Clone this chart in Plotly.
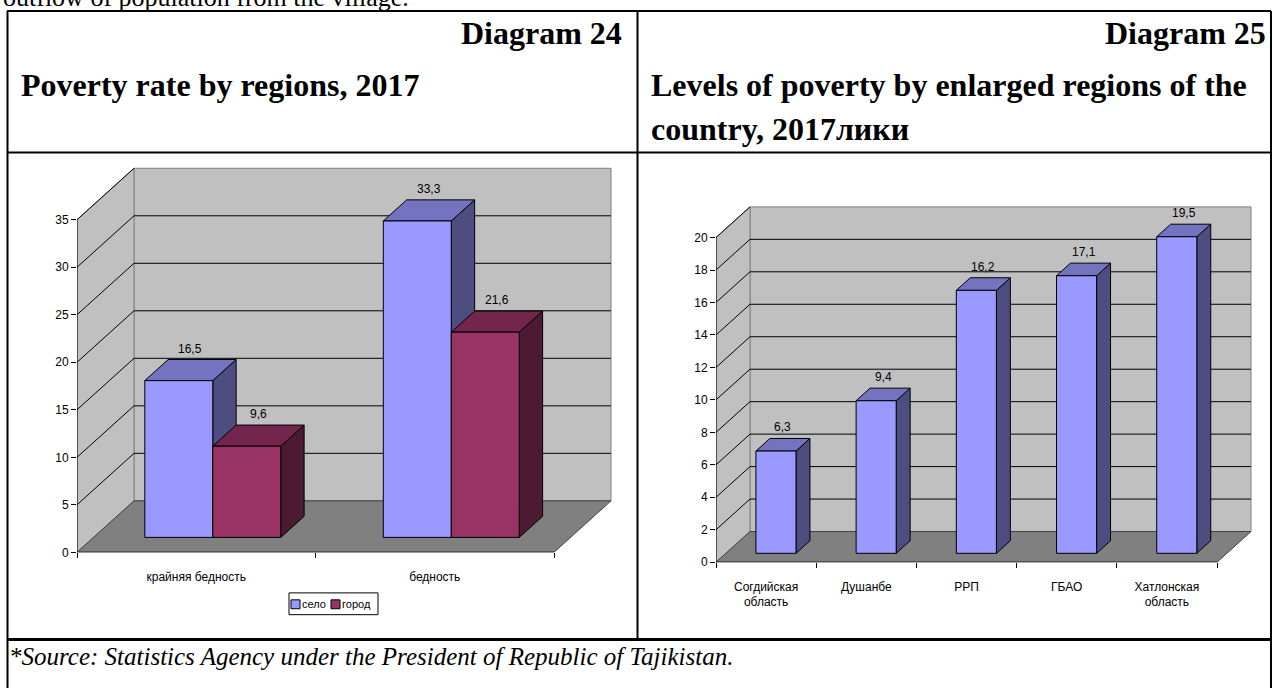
import plotly.graph_objects as go

W, H = 1273, 688

# ---------------- data ----------------
# Diagram 24: poverty rate, rural vs urban
groups24 = ["крайняя бедность", "бедность"]
series24 = ["село", "город"]
selo24 = [16.5, 33.3]
gorod24 = [9.6, 21.6]
ticks24 = [0, 5, 10, 15, 20, 25, 30, 35]

# Diagram 25: poverty by enlarged regions
regions25 = ["Согдийская<br>область", "Душанбе", "РРП", "ГБАО", "Хатлонская<br>область"]
poverty25 = [6.3, 9.4, 16.2, 17.1, 19.5]
ticks25 = [0, 2, 4, 6, 8, 10, 12, 14, 16, 18, 20]

# ---------------- styling ----------------
SANS = "Liberation Sans, Arial, sans-serif"
SERIF = "Liberation Serif, Times New Roman, serif"
WALL = "#C0C0C0"
WALL_EDGE = "#808080"
FLOOR = "#808080"
SELO = ("#9999FF", "#7373BF", "#4D4D80")    # front, top, side
GOROD = ("#993366", "#73264D", "#4D1A33")

# oblique-projection geometry for each panel (pixels on the page)
PANELS = {
    "24": dict(ox=77, oy=558, ux=238.5, uy=9.6, ddx=57, ddy=52,
               right=620, top=160, ncat=2, vmax=35),
    "25": dict(ox=716, oy=568, ux=100.2, uy=16.4, ddx=34, ddy=31,
               right=1258, top=200, ncat=5, vmax=20),
}
AXES = {"24": ("x", "y"), "25": ("x2", "y2")}
Z0, Z1 = 0.29, 0.70   # bar depth span within the floor


def proj(p, x, v, z):
    g = PANELS[p]
    return x + z * g["ddx"] / g["ux"], v + z * g["ddy"] / g["uy"]


def poly(p, pts, fill, edge, lw=1.0):
    xa, ya = AXES[p]
    xy = [proj(p, *q) for q in pts]
    xy.append(xy[0])
    return go.Scatter(x=[a for a, _ in xy], y=[b for _, b in xy], mode="lines",
                      fill="toself", fillcolor=fill,
                      line=dict(color=edge, width=lw),
                      xaxis=xa, yaxis=ya, hoverinfo="skip", showlegend=False)


def seg(p, a, b, color, lw=1.0):
    xa, ya = AXES[p]
    pa, pb = proj(p, *a), proj(p, *b)
    return go.Scatter(x=[pa[0], pb[0]], y=[pa[1], pb[1]], mode="lines",
                      line=dict(color=color, width=lw),
                      xaxis=xa, yaxis=ya, hoverinfo="skip", showlegend=False)


def frame(p, ticks):
    g = PANELS[p]
    n, vm = g["ncat"], g["vmax"]
    tr = [
        poly(p, [(0, 0, 1), (n, 0, 1), (n, vm, 1), (0, vm, 1)], WALL, WALL_EDGE),
        poly(p, [(0, 0, 0), (0, 0, 1), (0, vm, 1), (0, vm, 0)], WALL, WALL_EDGE),
    ]
    for t in ticks:
        if t <= 0:
            continue
        if t < vm:
            tr.append(seg(p, (0, t, 1), (n, t, 1), "#000000"))
        tr.append(seg(p, (0, t, 0), (0, t, 1), "#000000"))
    tr.append(poly(p, [(0, 0, 0), (n, 0, 0), (n, 0, 1), (0, 0, 1)], FLOOR, "#404040"))
    tr.append(seg(p, (0, 0, 0), (0, vm, 0), "#000000"))
    tr.append(seg(p, (0, 0, 0), (n, 0, 0), "#000000", 1.2))
    return tr


def bar(p, x0, x1, v, colors):
    front, top, side = colors
    return [
        poly(p, [(x1, 0, Z0), (x1, 0, Z1), (x1, v, Z1), (x1, v, Z0)], side, "#000000"),
        poly(p, [(x0, v, Z0), (x1, v, Z0), (x1, v, Z1), (x0, v, Z1)], top, "#000000"),
        poly(p, [(x0, 0, Z0), (x1, 0, Z0), (x1, v, Z0), (x0, v, Z0)], front, "#000000"),
    ]


def label(p, x0, x1, v):
    xa, ya = AXES[p]
    cx, _ = proj(p, (x0 + x1) / 2, v, (Z0 + Z1) / 2)
    _, ty = proj(p, 0, v, Z1)
    return dict(x=cx, y=ty, xref=xa, yref=ya, text=f"{v:.1f}".replace(".", ","),
                showarrow=False, yanchor="bottom", yshift=2,
                font=dict(family=SANS, size=12, color="#000000"))


traces, notes = [], []

# ---- Diagram 24 ----
traces += frame("24", ticks24)
BW24 = 0.285
for i in range(len(groups24)):
    c = i + 0.5
    traces += bar("24", c - BW24, c, selo24[i], SELO)
    traces += bar("24", c, c + BW24, gorod24[i], GOROD)
    notes.append(label("24", c - BW24, c, selo24[i]))
    notes.append(label("24", c, c + BW24, gorod24[i]))

# ---- Diagram 25 ----
traces += frame("25", ticks25)
BW25 = 0.40
for i, v in enumerate(poverty25):
    c = i + 0.5
    traces += bar("25", c - BW25 / 2, c + BW25 / 2, v, SELO)
    notes.append(label("25", c - BW25 / 2, c + BW25 / 2, v))

fig = go.Figure(traces)


def axes_for(p, cats, ticks):
    g = PANELS[p]
    xdom = [g["ox"] / W, g["right"] / W]
    ydom = [1 - g["oy"] / H, 1 - g["top"] / H]
    xr = [0, (g["right"] - g["ox"]) / g["ux"]]
    yr = [0, (g["oy"] - g["top"]) / g["uy"]]
    xa = dict(domain=xdom, range=xr, showgrid=False, zeroline=False, showline=False,
              tickmode="array", tickvals=[i + 0.5 for i in range(len(cats))],
              ticktext=cats, ticks="outside", ticklen=6, tickcolor="rgba(0,0,0,0)",
              ticklabelstandoff=7,
              tickfont=dict(family=SANS, size=12, color="#000000"),
              minor=dict(tickmode="array", tickvals=list(range(len(cats) + 1)),
                         ticks="outside", ticklen=5, tickcolor="#000000", showgrid=False),
              fixedrange=True)
    ya = dict(domain=ydom, range=yr, showgrid=False, zeroline=False, showline=False,
              tickmode="array", tickvals=ticks,
              ticks="outside", ticklen=5, tickcolor="#000000",
              tickfont=dict(family=SANS, size=12, color="#000000"),
              fixedrange=True)
    return xa, ya


xa1, ya1 = axes_for("24", groups24, ticks24)
xa2, ya2 = axes_for("25", regions25, ticks25)
xa1["anchor"] = "y"
ya1["anchor"] = "x"
xa2["anchor"] = "y2"
ya2["anchor"] = "x2"


def px(x):
    return x / W


def py(y):
    return 1 - y / H


# table rules
rules = [
    (7, 11, 1271, 11, 2), (7.5, 11, 7.5, 700, 2), (1271, 11, 1271, 700, 2),
    (637.5, 11, 637.5, 646, 2), (7, 154, 1271, 154, 2), (7, 646, 1271, 646, 3),
]
shapes = [dict(type="line", xref="paper", yref="paper",
               x0=px(a), y0=py(b), x1=px(c), y1=py(d),
               line=dict(color="#000000", width=w)) for a, b, c, d, w in rules]

# legend box for Diagram 24
LEG_BOX = (289, 599, 378, 621)
LEG_SWATCH_X = (291, 331)
LEG_TEXT_X = (301, 341)
shapes.append(dict(type="rect", xref="paper", yref="paper",
                   x0=px(LEG_BOX[0]), y0=py(LEG_BOX[3]), x1=px(LEG_BOX[2]), y1=py(LEG_BOX[1]),
                   line=dict(color="#000000", width=1), fillcolor="#FFFFFF"))
legend_notes = []
for name, col, sx, tx in zip(series24, (SELO[0], GOROD[0]), LEG_SWATCH_X, LEG_TEXT_X):
    shapes.append(dict(type="rect", xref="paper", yref="paper",
                       x0=px(sx), y0=py(615), x1=px(sx + 9), y1=py(606),
                       line=dict(color="#000000", width=1), fillcolor=col))
    legend_notes.append(dict(text=name, x=px(tx), y=py(610.5), xref="paper", yref="paper",
                             xanchor="left", yanchor="middle", showarrow=False,
                             borderpad=0,
                             font=dict(family=SANS, size=11, color="#000000")))

texts = [
    dict(text="outflow of population from the village.", x=px(1), y=py(14),
         xanchor="left", yanchor="bottom", font=dict(family=SERIF, size=26)),
    dict(text="<b>Diagram 24</b>", x=px(624), y=py(33), xanchor="right",
         yanchor="middle", font=dict(family=SERIF, size=32)),
    dict(text="<b>Poverty rate by regions, 2017</b>", x=px(19), y=py(86),
         xanchor="left", yanchor="middle", font=dict(family=SERIF, size=32)),
    dict(text="<b>Diagram 25</b>", x=px(1268), y=py(33), xanchor="right",
         yanchor="middle", font=dict(family=SERIF, size=32)),
    dict(text="<b>Levels of poverty by enlarged regions of the</b>", x=px(649), y=py(86),
         xanchor="left", yanchor="middle", font=dict(family=SERIF, size=32)),
    dict(text="<b>country, 2017лики</b>", x=px(649), y=py(130),
         xanchor="left", yanchor="middle", font=dict(family=SERIF, size=32)),
    dict(text="<i>*Source: Statistics Agency under the President of Republic of Tajikistan.</i>",
         x=px(7), y=py(663), xanchor="left", yanchor="middle",
         font=dict(family=SERIF, size=25)),
]
for t in texts:
    t.update(xref="paper", yref="paper", showarrow=False)
    t["font"]["color"] = "#000000"

fig.update_layout(
    width=W, height=H, margin=dict(l=0, r=0, t=0, b=0),
    paper_bgcolor="#FFFFFF", plot_bgcolor="rgba(0,0,0,0)",
    xaxis=xa1, yaxis=ya1, xaxis2=xa2, yaxis2=ya2,
    shapes=shapes, annotations=notes + legend_notes + texts,
    showlegend=False,
    hovermode=False,
)

fig.write_html("out.html", config={"displayModeBar": False})
